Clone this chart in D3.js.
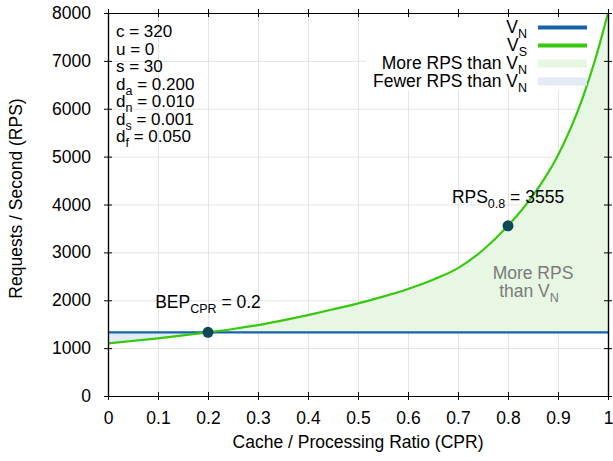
<!DOCTYPE html>
<html>
<head>
<meta charset="utf-8">
<script src="https://cdn.jsdelivr.net/npm/d3@7"></script>
<style>
  body { margin: 0; background: #fff; }
  svg text { font-family: "Liberation Sans", Arial, Helvetica, sans-serif; }
</style>
</head>
<body>
<svg id="chart" width="613" height="461"></svg>
<script>
    const width = 613;
    const height = 461;
    const margin = {top: 13, right: 5, bottom: 65, left: 108};
    const fontSize = 17.5;

    // values
    const cpr = [0, 0.05, 0.1, 0.15, 0.2, 0.25, 0.3, 0.35, 0.4, 0.45, 0.5,
                 0.55, 0.6, 0.65, 0.7, 0.75, 0.8, 0.85, 0.9, 0.95, 0.975, 1];
    const vs = [1100, 1150, 1205, 1265, 1330, 1400, 1480, 1580, 1690, 1810, 1935,
                2075, 2235, 2430, 2670, 3050, 3555, 4190, 5030, 6250, 7050, 8000];
    const vn = 1330;
    const xTicks = [0, 0.1, 0.2, 0.3, 0.4, 0.5, 0.6, 0.7, 0.8, 0.9, 1];
    const yTicks = [0, 1000, 2000, 3000, 4000, 5000, 6000, 7000, 8000];
    const params = [["c", "", "320"], ["u", "", "0"], ["s", "", "30"], ["d", "a", "0.200"],
                    ["d", "n", "0.010"], ["d", "s", "0.001"], ["d", "f", "0.050"]];
    const bep = {x: 0.2, y: 1330, label: "BEP", sub: "CPR", value: "0.2"};
    const rps = {x: 0.8, y: 3555, label: "RPS", sub: "0.8", value: "3555"};

    const colBlue = "#1763aa";
    const colGreen = "#36c90e";
    const fillGreen = "#e8f7e3";
    const fillBlue = "#e3ecf6";

    const svg = d3.select("#chart");
    const w = width - margin.left - margin.right;
    const h = height - margin.top - margin.bottom;
    const g = svg.append("g").attr("transform", `translate(${margin.left},${margin.top})`);

    const x = d3.scaleLinear().domain([0, 1]).range([0, w]);
    const y = d3.scaleLinear().domain([0, 8000]).range([h, 0]);
    const data = cpr.map((c, i) => ({x: c, y: vs[i]}));

    // grid
    g.append("g").attr("transform", `translate(0,${h})`)
        .call(d3.axisBottom(x).tickValues(xTicks).tickSize(-h).tickFormat(""))
        .call(a => a.select(".domain").remove())
        .selectAll("line").attr("stroke", "#e4e4e4");
    g.append("g")
        .call(d3.axisLeft(y).tickValues(yTicks).tickSize(-w).tickFormat(""))
        .call(a => a.select(".domain").remove())
        .selectAll("line").attr("stroke", "#e4e4e4");

    // legend background hides the grid, not the curves
    g.append("rect").attr("x", 366 - margin.left).attr("y", 1).attr("width", w - (366 - margin.left))
        .attr("height", 76).attr("fill", "#fff");

    // fills between curves
    const defs = svg.append("defs");
    defs.append("clipPath").attr("id", "above").append("rect")
        .attr("x", 0).attr("y", 0).attr("width", w).attr("height", y(vn));
    defs.append("clipPath").attr("id", "below").append("rect")
        .attr("x", 0).attr("y", y(vn)).attr("width", w).attr("height", h - y(vn));
    defs.append("clipPath").attr("id", "plot").append("rect")
        .attr("x", 0).attr("y", 0).attr("width", w).attr("height", h);

    const area = d3.area()
        .x(d => x(d.x)).y0(y(vn)).y1(d => y(d.y))
        .curve(d3.curveMonotoneX);
    g.append("path").datum(data).attr("d", area)
        .attr("fill", fillGreen).attr("clip-path", "url(#above)");
    g.append("path").datum(data).attr("d", area)
        .attr("fill", fillBlue).attr("clip-path", "url(#below)");

    // lines
    g.append("line")
        .attr("x1", 0).attr("x2", w).attr("y1", y(vn)).attr("y2", y(vn))
        .attr("stroke", colBlue).attr("stroke-width", 2.2);
    const line = d3.line().x(d => x(d.x)).y(d => y(d.y)).curve(d3.curveMonotoneX);
    g.append("path").datum(data).attr("d", line)
        .attr("fill", "none").attr("stroke", colGreen).attr("stroke-width", 2.2)
        .attr("clip-path", "url(#plot)");

    // points
    [bep, rps].forEach(p => {
        g.append("circle").attr("cx", x(p.x)).attr("cy", y(p.y)).attr("r", 5.5)
            .attr("fill", "#0c4959");
    });

    function subText(sel, main, sub, rest) {
        sel.append("tspan").text(main);
        if (sub) sel.append("tspan").attr("font-size", 12.5).attr("dy", 5).text(sub);
        if (rest) sel.append("tspan").attr("dy", sub ? -5 : 0).text(rest);
    }

    const t1 = g.append("text").attr("x", x(bep.x)).attr("y", y(bep.y) - 24)
        .attr("text-anchor", "middle").attr("font-size", fontSize);
    subText(t1, bep.label, bep.sub, " = " + bep.value);
    const t2 = g.append("text").attr("x", x(rps.x)).attr("y", y(rps.y) - 23)
        .attr("text-anchor", "middle").attr("font-size", fontSize);
    subText(t2, rps.label, rps.sub, " = " + rps.value);

    // "More RPS than VN" note
    g.append("text").attr("x", x(0.85)).attr("y", 279 - margin.top)
        .attr("text-anchor", "middle").attr("font-size", fontSize).attr("fill", "#7a7a7a")
        .text("More RPS");
    const t3 = g.append("text").attr("x", x(0.85) - 4).attr("y", 297 - margin.top)
        .attr("text-anchor", "middle").attr("font-size", fontSize).attr("fill", "#7a7a7a");
    subText(t3, "than V", "N", "");

    // parameters
    params.forEach((p, i) => {
        const t = g.append("text").attr("x", 8).attr("y", 37 - margin.top + i * 17.5)
            .attr("font-size", 17);
        subText(t, p[0], p[1], " = " + p[2]);
    });

    // legend
    const lg = svg.append("g");
    const legend = [
        {name: "V", sub: "N", type: "line", color: colBlue},
        {name: "V", sub: "S", type: "line", color: colGreen},
        {name: "More RPS than V", sub: "N", type: "fill", color: fillGreen},
        {name: "Fewer RPS than V", sub: "N", type: "fill", color: fillBlue}
    ];
    legend.forEach((d, i) => {
        const cy = 27.5 + i * 18;
        const t = lg.append("text").attr("x", 527).attr("y", cy + 5)
            .attr("text-anchor", "end").attr("font-size", fontSize);
        subText(t, d.name, d.sub, "");
        if (d.type === "line") {
            lg.append("rect").attr("x", 538).attr("y", cy - 2).attr("width", 49).attr("height", 4)
                .attr("fill", d.color);
        } else {
            lg.append("rect").attr("x", 538).attr("y", cy - 4).attr("width", 49).attr("height", 8)
                .attr("fill", d.color);
        }
    });

    // axes with ticks crossing the border
    const styleAxis = a => {
        a.selectAll("text").attr("font-size", fontSize).attr("fill", "#000");
        a.selectAll("line").attr("stroke", "#000");
        a.select(".domain").attr("stroke", "#000").attr("stroke-width", 1.2);
    };
    g.append("g").attr("transform", `translate(0,${h})`)
        .call(d3.axisBottom(x).tickValues(xTicks).tickSize(4).tickSizeOuter(0).tickPadding(12)
            .tickFormat(d3.format("")))
        .call(styleAxis);
    g.append("g").attr("transform", `translate(0,${h})`)
        .call(d3.axisBottom(x).tickValues(xTicks).tickSize(-4).tickSizeOuter(0).tickFormat(""))
        .call(styleAxis);
    g.append("g")
        .call(d3.axisTop(x).tickValues(xTicks).tickSize(-4).tickSizeOuter(0).tickFormat(""))
        .call(styleAxis);
    g.append("g")
        .call(d3.axisLeft(y).tickValues(yTicks).tickSize(4).tickSizeOuter(0).tickPadding(13)
            .tickFormat(d3.format("d")))
        .call(styleAxis);
    g.append("g")
        .call(d3.axisLeft(y).tickValues(yTicks).tickSize(-4).tickSizeOuter(0).tickFormat(""))
        .call(styleAxis);
    g.append("g").attr("transform", `translate(${w},0)`)
        .call(d3.axisRight(y).tickValues(yTicks).tickSize(-4).tickSizeOuter(0).tickFormat(""))
        .call(styleAxis);
    g.append("g").attr("transform", `translate(${w},0)`)
        .call(d3.axisRight(y).tickValues(yTicks).tickSize(4).tickSizeOuter(0).tickFormat(""))
        .call(styleAxis);
    g.append("g")
        .call(d3.axisTop(x).tickValues(xTicks).tickSize(4).tickSizeOuter(0).tickFormat(""))
        .call(styleAxis);

    // axis titles
    svg.append("text").attr("x", margin.left + w / 2).attr("y", 448)
        .attr("text-anchor", "middle").attr("font-size", fontSize)
        .text("Cache / Processing Ratio (CPR)");
    svg.append("text")
        .attr("transform", `translate(22,${margin.top + h / 2 - 6}) rotate(-90)`)
        .attr("text-anchor", "middle").attr("font-size", fontSize)
        .text("Requests / Second (RPS)");
</script>
</body>
</html>
